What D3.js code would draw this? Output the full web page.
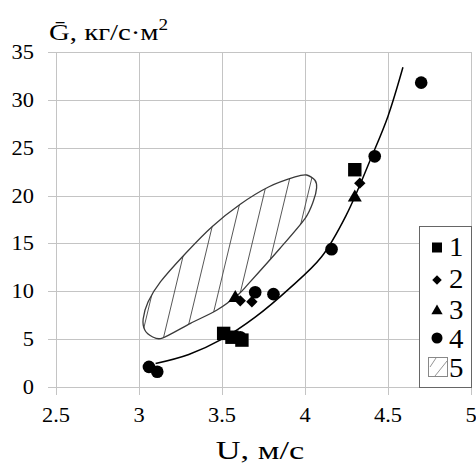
<!DOCTYPE html>
<html><head><meta charset="utf-8">
<script src="https://cdn.jsdelivr.net/npm/d3@7"></script>
<style>
html,body{margin:0;padding:0;background:#fff;}
svg{display:block;}
text{font-family:"Liberation Serif","Times New Roman","DejaVu Serif",serif;}
</style>
</head><body>
<svg id="c" width="476" height="465"></svg>
<script>
// ---- data ----
const xTicks = [2.5, 3, 3.5, 4, 4.5, 5];
const xTickLabels = ["2.5", "3", "3.5", "4", "4.5", "5"];
const yTicks = [0, 5, 10, 15, 20, 25, 30, 35];
const yTickLabels = ["0", "5", "10", "15", "20", "25", "30", "35"];
const series1 = [[3.51, 5.6], [3.56, 5.2], [3.62, 4.9], [4.30, 22.7]];           // squares
const series2 = [[3.61, 9.0], [3.68, 8.9], [4.33, 21.3]];                         // diamonds
const series3 = [[3.58, 9.3], [4.30, 19.8]];                                      // triangles
const series4 = [[3.06, 2.1], [3.11, 1.6], [3.61, 5.2], [3.70, 9.9], [3.81, 9.7],
                 [4.16, 14.4], [4.42, 24.1], [4.70, 31.8]];                       // circles
const trendLine = [[3.10, 2.45], [3.30, 3.4], [3.50, 5.0], [3.70, 7.3], [3.90, 10.2],
                   [4.10, 13.6], [4.25, 18.0], [4.40, 24.0], [4.50, 28.3], [4.59, 33.4]];
const region5 = [[4.01, 22.15], [4.06, 21.6], [4.07, 20.8], [4.05, 19.4], [4.00, 17.6],
                 [3.85, 14.5], [3.66, 10.8], [3.60, 9.7], [3.47, 8.05], [3.31, 6.65],
                 [3.14, 5.1], [3.08, 5.25], [3.035, 5.95], [3.025, 7.1], [3.055, 8.9],
                 [3.13, 11.0], [3.28, 13.95], [3.44, 16.75], [3.61, 19.1], [3.78, 20.9],
                 [3.94, 21.95]];
const legendLabels = ["1", "2", "3", "4", "5"];
const xTitle = "U, м/с";
const yTitle = "Ḡ, кг/с·м";
const yTitleSup = "2";

// ---- layout ----
const svg = d3.select("#c");
const L = 56, R = 471, T = 52, B = 387;
const x = d3.scaleLinear().domain([2.5, 5]).range([L, R]);
const y = d3.scaleLinear().domain([0, 35]).range([B, T]);
const SX = 1.12;

function txt(px, py, s, size, anchor, sx) {
  const g = svg.append("g").attr("transform", `translate(${px},${py}) scale(${sx || 1},1)`);
  return g.append("text").attr("x", 0).attr("y", 0)
    .attr("font-size", size).attr("text-anchor", anchor || "start").attr("fill", "#000").text(s);
}

// grid
const grid = svg.append("g").attr("stroke", "#c4c4c4").attr("stroke-width", 1).attr("shape-rendering", "crispEdges");
grid.selectAll(".gx").data(xTicks).join("line")
  .attr("x1", d => Math.round(x(d)) + 0.5).attr("x2", d => Math.round(x(d)) + 0.5)
  .attr("y1", T).attr("y2", B + 8);
grid.selectAll(".gy").data(yTicks).join("line")
  .attr("y1", d => Math.round(y(d)) + 0.5).attr("y2", d => Math.round(y(d)) + 0.5)
  .attr("x1", L - 8).attr("x2", R);

// tick labels
xTicks.forEach((t, i) => txt(x(t), 422, xTickLabels[i], 20, "middle", SX));
yTicks.forEach((t, i) => txt(34, y(t) + 7, yTickLabels[i], 20, "end", SX));

// axis titles
txt(260, 459, xTitle, 26, "middle", 1.32);
const yt = txt(49, 40, yTitle, 24, "start", 1.2);
yt.append("tspan").attr("font-size", 16).attr("dy", -10).text(yTitleSup);

// region 5 (hatched ellipse)
const regionPath = d3.line().x(d => x(d[0])).y(d => y(d[1])).curve(d3.curveCardinalClosed.tension(0.2));
svg.append("clipPath").attr("id", "ellClip").append("path").attr("d", regionPath(region5));
const hatchG = svg.append("g").attr("clip-path", "url(#ellClip)");
const slope = 0.24, sp = 22, ax = 227.75, ay = 253.3;
hatchG.selectAll("line").data(d3.range(-6, 7)).join("line")
  .attr("x1", k => ax + k * sp + slope * (ay - 120)).attr("y1", 120)
  .attr("x2", k => ax + k * sp + slope * (ay - 360)).attr("y2", 360)
  .attr("stroke", "#444").attr("stroke-width", 0.9);
svg.append("path").attr("d", regionPath(region5)).attr("fill", "none")
  .attr("stroke", "#3a3a3a").attr("stroke-width", 1.3);

// trend line
svg.append("path").datum(trendLine)
  .attr("d", d3.line().x(d => x(d[0])).y(d => y(d[1])).curve(d3.curveCatmullRom.alpha(0.5)))
  .attr("fill", "none").attr("stroke", "#000").attr("stroke-width", 1.5);

// markers
const sym = {
  sq: d3.symbol().type(d3.symbolSquare).size(180),
  di: d3.symbol().type(d3.symbolSquare).size(65),
  tr: d3.symbol().type(d3.symbolTriangle).size(85),
  ci: d3.symbol().type(d3.symbolCircle).size(125)
};
function plot(data, s, rot) {
  svg.append("g").selectAll("path").data(data).join("path")
    .attr("transform", d => `translate(${x(d[0])},${y(d[1])}) rotate(${rot || 0})`)
    .attr("d", sym[s]).attr("fill", "#000");
}
plot(series4, "ci");
plot(series1, "sq");
plot(series2, "di", 45);
plot(series3, "tr");

// legend
svg.append("rect").attr("x", 419.5).attr("y", 226.5).attr("width", 52).attr("height", 161)
  .attr("fill", "#fff").attr("stroke", "#666").attr("stroke-width", 1);
const legSym = [
  [d3.symbol().type(d3.symbolSquare).size(100), 0],
  [d3.symbol().type(d3.symbolSquare).size(45), 45],
  [d3.symbol().type(d3.symbolTriangle).size(55), 0],
  [d3.symbol().type(d3.symbolCircle).size(95), 0]
];
const legY = [247.5, 280, 311, 338];
const legBase = [256, 288, 319, 348, 377];
legSym.forEach((s, i) => svg.append("path").attr("transform", `translate(437,${legY[i]}) rotate(${s[1]})`).attr("d", s[0]).attr("fill", "#000"));
legendLabels.forEach((l, i) => txt(449, legBase[i], l, 27, "start", 1.07));
// hatched legend box
svg.append("rect").attr("x", 428.5).attr("y", 357.5).attr("width", 19).attr("height", 19)
  .attr("fill", "#fff").attr("stroke", "#888").attr("stroke-width", 1);
svg.append("line").attr("x1", 430).attr("y1", 367).attr("x2", 436).attr("y2", 358).attr("stroke", "#888").attr("stroke-width", 0.9);
svg.append("line").attr("x1", 435).attr("y1", 376).attr("x2", 447).attr("y2", 361).attr("stroke", "#888").attr("stroke-width", 0.9);
</script>
</body></html>
